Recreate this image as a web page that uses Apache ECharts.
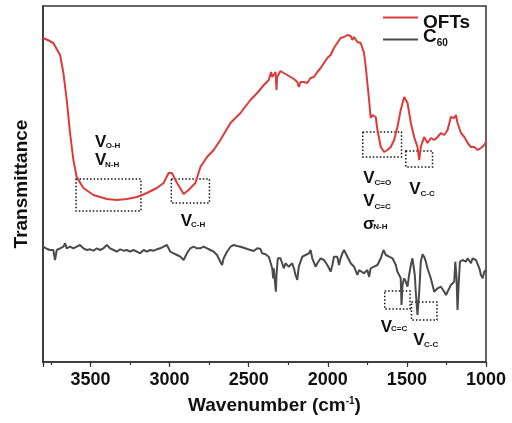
<!DOCTYPE html>
<html><head><meta charset="utf-8">
<script src="https://cdn.jsdelivr.net/npm/echarts@6/dist/echarts.min.js"></script>
<style>html,body{margin:0;padding:0;background:#fff}#c{width:512px;height:423px}</style>
</head><body><div id="c"></div>
<script>
// ---- data (wavenumber cm-1, transmittance a.u.) ----
const wnOFT = [3800,3770,3735,3692,3671,3650,3629,3608,3587,3545,3481,3396,3333,3270,3206,3143,3080,3038,3006,2985,2953,2911,2880,2837,2805,2763,2721,2679,2615,2552,2489,2446,2404,2373,2358,2351,2341,2330,2324,2320,2299,2278,2256,2235,2214,2193,2183,2172,2151,2130,2109,2088,2066,2045,2024,2003,1982,1961,1940,1919,1897,1876,1855,1845,1834,1813,1792,1771,1760,1750,1739,1729,1718,1707,1697,1686,1665,1644,1623,1602,1581,1560,1539,1517,1496,1475,1454,1433,1422,1412,1391,1370,1348,1327,1306,1285,1264,1243,1222,1201,1190,1180,1158,1137,1116,1095,1074,1053,1032,1011,1000];
const tOFT  = [324,322,319,307,289,262,229,202,185,174,167,163,162,163,165,169,174,179,189,189,179,168,172,179,195,205,212,222,239,249,262,269,277,282,290,285,284,290,272,285,291,289,287,285,283,280,275,280,280,279,284,285,290,294,299,304,307,314,319,324,325,327,326,322,325,320,319,309,295,279,262,244,247,249,245,232,215,210,212,215,222,235,252,265,259,239,225,215,202,215,225,219,224,222,225,229,227,232,245,244,247,239,229,225,219,215,215,212,214,217,220];
const wnC60 = [3800,3777,3756,3735,3724,3713,3692,3671,3661,3650,3629,3608,3587,3566,3545,3523,3502,3481,3460,3439,3418,3397,3376,3354,3333,3312,3291,3270,3249,3228,3207,3186,3164,3143,3122,3101,3080,3059,3038,3017,3006,2996,2974,2953,2932,2911,2901,2890,2869,2848,2827,2806,2784,2763,2742,2721,2700,2679,2668,2658,2637,2615,2594,2573,2552,2541,2531,2510,2489,2468,2446,2436,2425,2415,2404,2394,2373,2362,2351,2345,2341,2335,2328,2324,2316,2309,2299,2288,2278,2267,2256,2246,2235,2225,2214,2204,2193,2183,2172,2161,2151,2140,2130,2119,2109,2098,2088,2077,2066,2045,2035,2024,2014,2003,1992,1982,1971,1961,1940,1929,1919,1908,1897,1887,1876,1855,1845,1834,1824,1813,1802,1792,1771,1760,1750,1739,1729,1707,1686,1676,1665,1648,1633,1612,1591,1570,1560,1549,1539,1534,1528,1517,1507,1496,1486,1475,1465,1458,1450,1444,1433,1422,1412,1401,1391,1380,1370,1349,1327,1306,1285,1275,1264,1253,1243,1232,1222,1211,1201,1194,1186,1180,1173,1165,1148,1127,1116,1095,1085,1063,1042,1032,1021,1011,1000];
const tC60  = [115.3,113.3,112,112,102,112,113.7,115.3,118.7,113.7,115.3,113.7,115.3,117,113.7,112,112.7,111.3,113.7,112,113.7,117,113.7,112,110.3,112.7,111.3,112,110.3,112,110.3,108.7,112,110.3,112,111.3,112.7,113.7,115.3,117,113.7,110.3,108.7,107,105.3,102,103.7,108.7,113.7,115.3,113.7,113.7,115.3,113.7,112,110.3,107,100.3,97,103.7,110.3,115.3,117,116,115.3,117,114.3,113,112,111,113.7,115.3,113,108.7,110.3,107.7,105.3,103.7,93.7,83.7,93.7,82,70.3,87,103.7,105.3,103.7,102,93.7,98.7,100.3,95.3,97,98.7,93.7,87,82,95.3,100.3,105.3,103.7,107,105.3,108.7,112,103.7,102,95.3,98.7,103.7,105.3,102,100.3,97,93.7,90.3,97,105.3,105.3,97,103.7,108.7,112,108.7,107,98.7,100.3,95.3,97,87,92,93.7,88.7,87,92,85.3,93.7,95.3,97,98.7,103.7,112,107,105.3,103.7,97,90.3,87,83.7,57,77,83.7,80.3,75.3,87,97,103.7,105.3,87,70.3,47,70.3,100.3,107.7,105.3,100.3,93.7,83.7,70.3,73.7,75.3,77,70.3,67,70.3,73.7,77,75.3,80.3,100.3,83.7,52,77,100.3,102,100.3,103.7,98.7,103.7,102,93.7,87,83.7,90.3,92];
const xMajorTicks = [1000,1500,2000,2500,3000,3500];
// annotation boxes [x1, y1, x2, y2] in data units
const boxesOFT = [[3591,183,3181,151],[2989,183,2748,159],[1779,230,1534,205],[1507,211,1338,195]];
const boxesC60 = [[1640,71,1480,53],[1471,60,1310,42]];

const FONT = 'Liberation Sans, Arial, sans-serif';
const zip = (a,b) => a.map((v,i)=>[v,b[i]]);
const boxArea = (bs) => ({
  silent: true,
  itemStyle: {color:'rgba(0,0,0,0)', borderColor:'#111', borderWidth:1.5, borderType:[1.5,2]},
  data: bs.map(b => [{coord:[b[0],b[1]]},{coord:[b[2],b[3]]}])
});

// annotation text: [glyph, glyph left, cap top, subscript, sub left, sub top]
const labels = [
  ['V',95,134,'O-H',105.7,142.7],
  ['V',95,152,'N-H',105,161.7],
  ['V',180.7,213.3,'C-H',191,221.7],
  ['V',363.3,170,'C=O',374.5,180],
  ['V',363.3,193.3,'C=C',374.5,204],
  ['σ',363,215.7,'N-H',373.3,223.3],
  ['V',409.3,181,'C-C',420.5,191],
  ['V',380.7,319.3,'C=C',391,326],
  ['V',413.3,331.7,'C-C',424,341.7]
];
const graphics = [];
labels.forEach(l => {
  graphics.push({type:'text', left:l[1], top:l[2], style:{text:l[0], font:'bold 17px '+FONT, fill:'#111'}});
  graphics.push({type:'text', left:l[4], top:l[5]-1, style:{text:l[3], font:'bold 8px '+FONT, fill:'#111'}});
});

const legendRich = {
  b:{fontFamily:FONT, fontWeight:'bold', fontSize:19, color:'#111', padding:[10,0,0,0]},
  c:{fontFamily:FONT, fontWeight:'bold', fontSize:19, color:'#111', padding:[0,0,6,0]},
  s:{fontFamily:FONT, fontWeight:'bold', fontSize:10, color:'#111', verticalAlign:'middle', padding:[8,0,0,0]}
};
const legendFmt = n => n === 'C60' ? '{c|C}{s|60}' : '{b|OFTs}';

const chart = echarts.init(document.getElementById('c'), null, {renderer:'canvas'});
chart.setOption({
  animation: false,
  backgroundColor: '#fff',
  grid: {left:43, right:26, top:6, bottom:61, show:true, borderColor:'#333', borderWidth:1.5},
  legend: [{
    orient:'vertical', left:383, top:13, padding:0, itemWidth:35, itemHeight:2, icon:'rect',
    data:['OFTs'], formatter: legendFmt, textStyle:{rich:legendRich}
  },{
    orient:'vertical', left:383, top:27, padding:0, itemWidth:35, itemHeight:2, icon:'rect',
    data:['C60'], formatter: legendFmt, textStyle:{rich:legendRich}
  }],
  xAxis: [{
    type:'value', inverse:true, min:1000, max:3800, interval:250,
    name:'{a|Wavenumber (cm}{s|-1}{a|)}', nameLocation:'middle', nameGap:34,
    nameTextStyle:{padding:[0,0,0,20], rich:{
      a:{fontFamily:FONT, fontWeight:'bold', fontSize:19, color:'#111'},
      s:{fontFamily:FONT, fontWeight:'bold', fontSize:10, color:'#111', verticalAlign:'top'}
    }},
    axisLine:{show:true, onZero:false, lineStyle:{color:'#333', width:1.5}},
    axisTick:{show:true, length:3, lineStyle:{color:'#333', width:1.2}},
    axisLabel:{margin:9, fontFamily:FONT, fontWeight:'bold', fontSize:18, color:'#111',
      formatter: v => xMajorTicks.includes(v) ? String(v) : ''},
    splitLine:{show:false}
  },{
    type:'value', inverse:true, min:1000, max:3800, interval:500, position:'bottom',
    axisLine:{show:false}, axisLabel:{show:false}, splitLine:{show:false},
    axisTick:{show:true, length:5, lineStyle:{color:'#333', width:1.2}}
  }],
  yAxis: {
    type:'value', min:0, max:356,
    name:'Transmittance', nameLocation:'middle', nameGap:12,
    nameTextStyle:{fontFamily:FONT, fontWeight:'bold', fontSize:19, color:'#111'},
    axisLine:{show:true, lineStyle:{color:'#333', width:1.5}},
    axisTick:{show:false}, axisLabel:{show:false}, splitLine:{show:false}
  },
  series: [{
    name:'OFTs', type:'line', xAxisIndex:0, data:zip(wnOFT,tOFT), showSymbol:false, symbol:'none',
    lineStyle:{color:'#dd3a3a', width:2}, itemStyle:{color:'#dd3a3a'}, markArea: boxArea(boxesOFT)
  },{
    name:'C60', type:'line', xAxisIndex:0, data:zip(wnC60,tC60), showSymbol:false, symbol:'none',
    lineStyle:{color:'#4a4a4a', width:2}, itemStyle:{color:'#4a4a4a'}, markArea: boxArea(boxesC60)
  }],
  graphic: graphics
});
</script></body></html>
